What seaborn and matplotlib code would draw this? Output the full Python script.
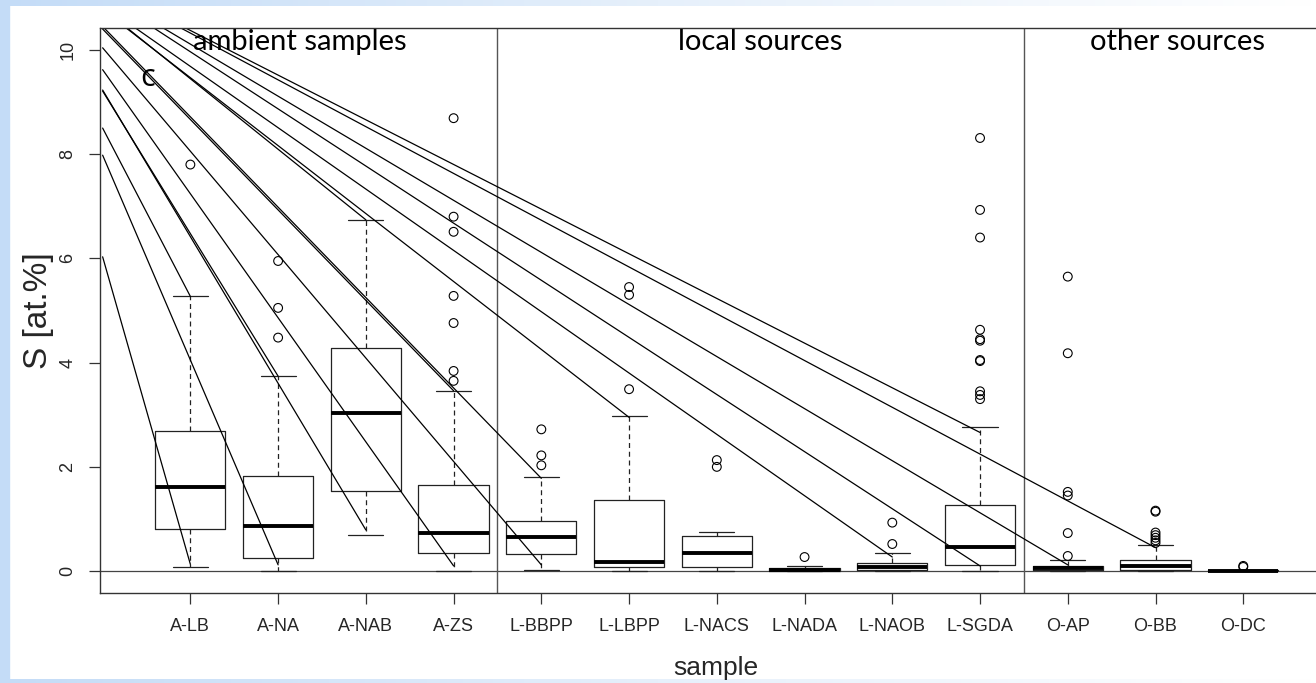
import numpy as np
import pandas as pd
import matplotlib
matplotlib.use("Agg")
import matplotlib.pyplot as plt
from matplotlib.patches import Rectangle
import seaborn as sns

# box statistics (S in at.%)
samples = ["A-LB", "A-NA", "A-NAB", "A-ZS", "L-BBPP", "L-LBPP", "L-NACS",
           "L-NADA", "L-NAOB", "L-SGDA", "O-AP", "O-BB", "O-DC"]
whis_lo = [0.08, 0.0, 0.69, 0.0, 0.03, 0.0, 0.0, 0.0, 0.0, 0.0, 0.0, 0.0, 0.0]
q1 = [0.81, 0.25, 1.54, 0.34, 0.32, 0.08, 0.08, 0.01, 0.03, 0.12, 0.02, 0.03, 0.0]
median = [1.61, 0.86, 3.03, 0.73, 0.66, 0.17, 0.34, 0.03, 0.08, 0.46, 0.06, 0.10, 0.01]
q3 = [2.69, 1.82, 4.28, 1.65, 0.96, 1.36, 0.67, 0.06, 0.16, 1.27, 0.10, 0.21, 0.02]
whis_hi = [5.27, 3.74, 6.74, 3.46, 1.81, 2.98, 0.75, 0.10, 0.34, 2.76, 0.21, 0.50, 0.03]
outliers = [
    [7.80],
    [5.95, 5.05, 4.48],
    [],
    [8.69, 6.80, 6.51, 5.28, 4.76, 3.84, 3.65],
    [2.72, 2.22, 2.03],
    [5.45, 5.30, 3.49],
    [2.13, 2.00],
    [0.27],
    [0.93, 0.52],
    [8.31, 6.93, 6.40, 4.63, 4.45, 4.42, 4.05, 4.03, 3.45, 3.38, 3.30],
    [5.65, 4.18, 1.52, 1.45, 0.73, 0.29],
    [1.16, 1.14, 0.74, 0.69, 0.64, 0.59, 0.54],
    [0.10, 0.08],
]

# group headers
groups = ["ambient samples", "local sources", "other sources"]
group_centers = [2.25, 7.5, 12.25]
group_breaks = [4.5, 10.5]

# the stray lines drawn over the boxes: start value at x=0, end point
line_y0 = [6.03, 7.98, 8.50, 9.21, 9.23, 9.62, 10.04, 10.40, 10.45, 10.77,
           10.80, 10.86, 11.06, 11.11, 11.22, 11.23]
line_x1 = [1, 2, 1, 2, 3, 4, 5, 4, 5, 6, 3, 9, 10, 11, 12, 10]
line_y1 = [0.13, 0.12, 5.27, 3.74, 0.79, 0.10, 0.12, 3.46, 1.78, 2.95,
           6.74, 0.27, 0.10, 0.12, 0.45, 2.66]

sns.set_theme(style="white")
plt.rcParams["font.family"] = ["Liberation Sans", "DejaVu Sans"]

W, H = 1316, 683
fig = plt.figure(figsize=(W / 100, H / 100), dpi=100)
fig.patch.set_facecolor("white")

# slide background strips
fig.add_artist(Rectangle((0, 0), 9 / W, 1, transform=fig.transFigure,
                         color="#c4dcf7", zorder=0))
fade = matplotlib.colors.LinearSegmentedColormap.from_list(
    "fade", ["#c4dcf7", "#e6f0fb", "#ffffff"])
grad = np.linspace(0, 1, 256)[None, :]
bg = fig.add_axes([0, 1 - 6 / H, 1, 6 / H], zorder=0)
bg.imshow(grad, aspect="auto", cmap=fade, extent=[0, 1, 0, 1])
bg.axis("off")
bg2 = fig.add_axes([0, 0, 1, 4 / H], zorder=0)
bg2.imshow(grad, aspect="auto", cmap=fade, extent=[0, 1, 0, 1])
bg2.axis("off")

ax = fig.add_axes([100 / W, 90 / H, 1231 / W, 565 / H], zorder=2)
ax.set_facecolor("none")

stats = []
for i, name in enumerate(samples):
    stats.append(dict(label=name, med=median[i], q1=q1[i], q3=q3[i],
                      whislo=whis_lo[i], whishi=whis_hi[i], fliers=[]))
pos = np.arange(1, len(samples) + 1)
ax.bxp(stats, positions=pos, widths=0.8, capwidths=0.4, showfliers=False,
       boxprops=dict(color="#222222", linewidth=0.9),
       medianprops=dict(color="black", linewidth=2.8, solid_capstyle="butt"),
       whiskerprops=dict(color="#222222", linewidth=0.9, linestyle=(0, (4, 3))),
       capprops=dict(color="#222222", linewidth=0.9))

out_df = pd.DataFrame({
    "sample": [pos[i] for i, vals in enumerate(outliers) for _ in vals],
    "S": [v for vals in outliers for v in vals],
})
sns.scatterplot(data=out_df, x="sample", y="S", ax=ax, marker="o", s=40,
                facecolor="none", edgecolor="black", linewidth=0.8, zorder=3)

for y0, x1, y1 in zip(line_y0, line_x1, line_y1):
    ax.plot([0, x1], [y0, y1], color="black", linewidth=0.9, zorder=2)

ax.axhline(0, color="#444444", linewidth=0.9, zorder=1)
for b in group_breaks:
    ax.axvline(b, color="#555555", linewidth=1.0, zorder=1)

for name, c in zip(groups, group_centers):
    ax.text(c, 10.16, name, ha="center", va="center", fontsize=21,
            family=["Lato", "DejaVu Sans"], color="black")
ax.text(0.51, 9.46, "c", ha="center", va="center", fontsize=22,
        family=["Open Sans", "DejaVu Sans"], color="black", zorder=1)

ax.set_xlim(-0.03, 14)
ax.set_ylim(-0.42, 10.42)
ax.set_xticks(pos)
ax.set_xticklabels(samples, fontsize=13)
ax.set_yticks([0, 2, 4, 6, 8, 10])
ax.set_yticklabels(["0", "2", "4", "6", "8", "10"], fontsize=13, rotation=90, va="center")
ax.tick_params(axis="both", direction="out", length=8, width=0.9, color="#333333",
               left=True, bottom=True)
ax.tick_params(axis="x", pad=10)
ax.tick_params(axis="y", pad=9)
for side in ["left", "top", "bottom"]:
    ax.spines[side].set_color("#333333")
    ax.spines[side].set_linewidth(1.0)
ax.spines["right"].set_visible(False)

# x label sits low, as in the slide
ax.set_xlabel("")
fig.text(716 / W, 8 / H, "sample", ha="center", va="baseline", fontsize=19)
ax.set_ylabel("S [at.%]", fontsize=24, labelpad=4)
ax.grid(False)

fig.savefig("out.png", dpi=100)
